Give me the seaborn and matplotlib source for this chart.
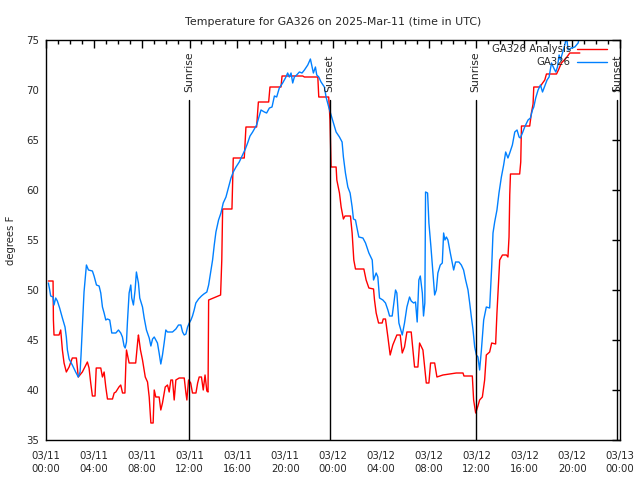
import pandas as pd
import matplotlib
matplotlib.use("Agg")
import matplotlib.pyplot as plt
import matplotlib.transforms as mtransforms
from matplotlib.ticker import MultipleLocator
import seaborn as sns

# hours since 2025-03-11 00:00 UTC
analysis_hours = [0.2, 0.59, 0.62, 0.67, 1.09, 1.23, 1.37, 1.51, 1.7, 1.93, 2.2, 2.54, 2.7, 3.04, 3.46, 3.6,
                  3.74, 3.88, 4.1, 4.2, 4.58, 4.72, 4.86, 5.0, 5.14, 5.56, 5.7, 5.84, 6.1, 6.25, 6.4, 6.6,
                  6.68, 6.73, 6.95, 7.5, 7.68, 7.73, 7.9, 8.07, 8.3, 8.49, 8.63, 8.77, 8.96, 9.05, 9.18, 9.46,
                  9.6, 9.74, 9.97, 10.16, 10.3, 10.44, 10.58, 10.72, 10.86, 11.14, 11.56, 11.7, 11.78, 11.92,
                  12.1, 12.25, 12.54, 12.68, 12.81, 13.0, 13.15, 13.3, 13.45, 13.55, 13.6, 14.0, 14.6, 14.7,
                  14.77, 15.55, 15.66, 16.58, 16.72, 17.61, 17.76, 18.62, 18.73, 19.65, 19.74, 21.47, 21.61,
                  22.73, 22.81, 23.64, 23.75, 23.84, 24.26, 24.32, 24.54, 24.68, 24.87, 25.0, 25.46, 25.6,
                  25.74, 25.88, 26.58, 26.77, 27.0, 27.39, 27.47, 27.61, 27.81, 28.11, 28.2, 28.39, 28.59,
                  28.78, 29.0, 29.34, 29.62, 29.79, 29.98, 30.18, 30.54, 30.68, 30.82, 31.1, 31.24, 31.52,
                  31.65, 31.8, 32.02, 32.16, 32.5, 32.69, 33.19, 34.31, 34.87, 34.95, 35.65, 35.76, 35.93,
                  36.12, 36.26, 36.49, 36.68, 36.82, 37.1, 37.27, 37.6, 37.71, 37.8, 37.94, 38.17, 38.5,
                  38.63, 38.72, 38.78, 38.84, 39.61, 39.7, 39.76, 40.45, 40.59, 40.73, 40.79, 41.29, 41.71,
                  41.85, 42.69, 42.85, 43.1, 43.5, 43.8, 44.64]
analysis_temps = [50.9, 50.9, 47.0, 45.5, 45.5, 46.0, 44.0, 42.7, 41.8, 42.3, 43.2, 43.2, 41.3, 41.8, 42.8, 42.2,
                  40.7, 39.4, 39.4, 42.2, 42.2, 41.3, 41.8, 40.3, 39.1, 39.1, 39.7, 39.8, 40.3, 40.5, 39.7, 39.7,
                  42.7, 44.0, 42.7, 42.7, 45.0, 45.5, 44.0, 43.0, 41.3, 40.8, 39.3, 36.7, 36.7, 40.0, 39.3, 39.3,
                  38.0, 38.7, 40.3, 40.5, 39.8, 41.0, 41.0, 39.0, 41.0, 41.2, 41.2, 39.7, 39.0, 41.0,
                  40.7, 39.7, 39.7, 40.7, 41.3, 41.3, 40.0, 41.5, 39.9, 39.8, 49.0, 49.2, 49.5, 53.0,
                  58.1, 58.1, 63.2, 63.2, 66.3, 66.3, 68.8, 68.8, 70.3, 70.3, 71.4, 71.4, 71.3,
                  71.3, 69.3, 69.3, 67.0, 62.3, 62.3, 61.0, 59.7, 58.3, 57.1, 57.4, 57.4, 55.7,
                  53.0, 52.1, 52.1, 51.0, 50.2, 50.1, 49.0, 47.7, 46.7, 46.7, 47.1, 47.1, 45.3,
                  43.5, 44.5, 45.5, 45.5, 43.7, 44.3, 45.8, 45.8, 44.0, 42.3, 42.3, 44.7, 44.0,
                  42.5, 40.7, 40.7, 42.7, 42.7, 41.3, 41.5, 41.7, 41.7, 41.4, 41.4, 39.0, 37.7,
                  38.4, 39.0, 39.3, 41.0, 43.5, 43.8, 44.7, 44.6, 47.7, 49.7, 53.0, 53.5, 53.5,
                  53.3, 55.3, 59.5, 61.6, 61.6, 62.8, 66.4, 66.4, 67.7, 68.6, 70.3, 70.3, 71.0,
                  71.6, 71.6, 72.0, 72.7, 73.2, 73.7, 73.7]

station_hours = [0.2, 0.31, 0.39, 0.59, 0.67, 0.81, 0.95, 1.14, 1.37, 1.59, 1.7, 1.79, 1.93, 2.2, 2.48, 2.7,
                 2.85, 2.93, 3.04, 3.18, 3.38, 3.55, 3.88, 4.02, 4.22, 4.44, 4.58, 4.72, 4.86, 5.0, 5.14,
                 5.33, 5.42, 5.5, 5.84, 6.06, 6.25, 6.39, 6.53, 6.62, 6.73, 6.81, 6.95, 7.09, 7.17, 7.31,
                 7.45, 7.56, 7.73, 7.84, 8.07, 8.21, 8.4, 8.63, 8.77, 8.91, 9.05, 9.18, 9.32, 9.46, 9.6,
                 9.74, 9.88, 10.02, 10.16, 10.58, 10.86, 11.08, 11.28, 11.42, 11.56, 11.7, 11.84, 11.98,
                 12.12, 12.25, 12.39, 12.53, 12.76, 13.0, 13.2, 13.45, 13.6, 13.8, 13.93, 14.07, 14.21,
                 14.43, 14.63, 14.82, 15.05, 15.27, 15.47, 15.66, 15.89, 16.16, 16.44, 16.67, 16.86,
                 17.06, 17.28, 17.61, 17.78, 17.98, 18.26, 18.45, 18.68, 18.9, 19.1, 19.29, 19.51, 19.79,
                 20.02, 20.21, 20.35, 20.49, 20.63, 20.77, 20.96, 21.19, 21.41, 21.61, 21.89, 22.11,
                 22.25, 22.36, 22.53, 22.64, 22.81, 23.0, 23.28, 23.42, 23.64, 23.84, 24.04, 24.26,
                 24.54, 24.76, 24.87, 25.04, 25.24, 25.43, 25.6, 25.71, 25.88, 25.99, 26.16, 26.5,
                 26.72, 27.0, 27.28, 27.39, 27.61, 27.75, 27.89, 28.17, 28.39, 28.59, 28.73, 28.95,
                 29.23, 29.34, 29.51, 29.79, 29.98, 30.18, 30.4, 30.54, 30.74, 30.9, 31.04, 31.18, 31.3,
                 31.47, 31.57, 31.68, 31.74, 31.91, 32.02, 32.19, 32.36, 32.5, 32.64, 32.77, 32.97,
                 33.14, 33.25, 33.36, 33.48, 33.61, 33.81, 33.98, 34.09, 34.25, 34.53, 34.73, 34.92,
                 35.09, 35.29, 35.43, 35.57, 35.71, 35.85, 35.99, 36.12, 36.26, 36.41, 36.6, 36.82,
                 37.1, 37.16, 37.27, 37.38, 37.52, 37.71, 37.88, 38.08, 38.27, 38.44, 38.63, 38.78,
                 39.0, 39.2, 39.39, 39.56, 39.67, 39.84, 40.03, 40.31, 40.51, 40.68, 40.79, 40.95,
                 41.15, 41.35, 41.52, 41.71, 41.9, 42.07, 42.27, 42.46, 42.63, 42.77, 42.91, 43.02,
                 43.19, 43.38, 43.53, 43.66, 43.94, 44.22, 44.5, 44.64]
station_temps = [50.7, 50.0, 49.4, 49.3, 48.5, 49.2, 48.9, 48.2, 47.2, 46.3, 45.3, 44.0, 43.1, 42.5, 41.8, 41.3,
                 41.8, 43.5, 46.2, 49.8, 52.5, 52.0, 51.9, 51.4, 50.5, 50.4, 49.7, 48.3, 47.7, 47.0, 47.1,
                 47.0, 46.3, 45.7, 45.7, 46.0, 45.7, 45.3, 44.4, 44.2, 44.8, 46.8, 49.7, 50.5, 49.2, 48.5,
                 50.0, 51.8, 50.7, 49.2, 48.3, 47.2, 46.0, 45.2, 44.4, 45.1, 45.3, 45.0, 44.7, 43.7, 42.6,
                 43.5, 44.7, 46.0, 45.8, 45.8, 46.1, 46.5, 46.5, 45.8, 45.5, 45.6, 46.3, 46.7,
                 47.0, 47.4, 48.0, 48.7, 49.1, 49.4, 49.6, 49.8, 50.5, 52.0, 53.0, 54.5, 55.8,
                 57.0, 57.7, 58.7, 59.3, 60.3, 61.2, 61.8, 62.3, 62.8, 63.5, 64.1, 64.7,
                 65.4, 65.8, 66.5, 67.2, 68.0, 67.8, 67.7, 68.2, 68.3, 69.4, 69.3, 70.2, 70.7,
                 71.2, 71.7, 71.3, 71.7, 70.7, 71.3, 71.5, 71.8, 71.7, 72.0, 72.5, 73.1,
                 72.3, 71.7, 72.3, 71.5, 71.3, 70.8, 70.3, 69.3, 68.3, 67.5, 66.7, 65.8,
                 65.3, 64.8, 63.3, 61.7, 60.3, 59.7, 58.3, 57.1, 57.0, 56.3, 55.3, 55.2,
                 54.7, 53.7, 53.0, 51.0, 51.7, 51.3, 49.2, 49.0, 48.7, 48.0, 47.4, 47.4,
                 50.0, 49.7, 46.7, 45.5, 46.7, 48.3, 49.3, 48.9, 48.7, 48.8, 46.8, 51.0, 51.4,
                 49.7, 47.4, 48.7, 59.8, 59.7, 56.7, 54.3, 51.7, 49.5, 50.0, 51.7, 52.5,
                 52.7, 55.7, 55.0, 55.3, 55.0, 53.7, 52.7, 52.0, 52.8, 52.8, 52.5, 52.0,
                 51.0, 50.0, 48.7, 47.3, 46.0, 44.3, 43.5, 43.3, 42.0, 44.0, 47.0, 48.3,
                 48.2, 49.7, 52.3, 55.7, 56.8, 58.0, 59.7, 61.3, 62.5, 63.8, 63.2, 63.7,
                 64.5, 65.8, 66.0, 65.3, 65.2, 65.7, 66.3, 67.0, 67.2, 68.0, 68.3, 69.2,
                 70.0, 70.5, 69.8, 70.4, 71.0, 71.3, 72.7, 72.2, 71.8, 72.3, 73.5, 73.0,
                 73.7, 74.5, 75.3, 74.0, 74.2, 74.3, 74.7, 75.5]

sun_hours = [11.98, 23.72, 35.93, 47.75]
sun_labels = ["Sunrise", "Sunset", "Sunrise", "Sunset"]

tick_hours = list(range(0, 49, 4))
tick_labels = ["03/11\n00:00", "03/11\n04:00", "03/11\n08:00", "03/11\n12:00", "03/11\n16:00",
               "03/11\n20:00", "03/12\n00:00", "03/12\n04:00", "03/12\n08:00", "03/12\n12:00",
               "03/12\n16:00", "03/12\n20:00", "03/13\n00:00"]

df = pd.concat([
    pd.DataFrame({"hour": analysis_hours, "temp": analysis_temps, "series": "GA326 Analysis"}),
    pd.DataFrame({"hour": station_hours, "temp": station_temps, "series": "GA326"}),
])

sns.set_style("white")
plt.rcParams["font.family"] = ["DejaVu Sans"]
plt.rcParams["font.size"] = 7.3

fig = plt.figure(figsize=(6.4, 4.8), dpi=100)
ax = fig.add_axes([46 / 640, 40 / 480, 574 / 640, 400 / 480])

sns.lineplot(data=df, x="hour", y="temp", hue="series", sort=False, estimator=None,
             palette={"GA326 Analysis": "#ff0000", "GA326": "#0080ff"}, linewidth=1, ax=ax)

# sunrise / sunset markers
trans = mtransforms.blended_transform_factory(ax.transData, ax.transAxes)
for h, lab in zip(sun_hours, sun_labels):
    ax.axvline(h, ymin=0, ymax=0.85, color="black", linewidth=1)
    ax.text(h, 0.87, lab, transform=trans, rotation=90, ha="center", va="bottom", fontsize=7.8)

ax.set_xlim(0, 48)
ax.set_ylim(35, 75)
ax.set_xticks(tick_hours)
ax.set_xticklabels(tick_labels, linespacing=1.35)
ax.xaxis.set_minor_locator(MultipleLocator(1))
ax.set_yticks(range(35, 76, 5))
ax.tick_params(which="both", direction="in", top=True, right=True, width=1, color="black")
ax.tick_params(which="major", length=6)
ax.tick_params(which="minor", length=3)
ax.tick_params(axis="x", pad=8)
ax.tick_params(axis="y", pad=5)
for s in ax.spines.values():
    s.set_color("black")
    s.set_linewidth(1)

ax.set_xlabel("")
ax.set_ylabel("degrees F")
ax.yaxis.set_label_coords(-0.052, 0.5)
ax.set_title("Temperature for GA326 on 2025-Mar-11 (time in UTC)", pad=11, fontsize=7.9)

handles, labels = ax.get_legend_handles_labels()
ax.legend(handles, labels, loc="upper right", bbox_to_anchor=(0.985, 1.0), frameon=False,
          markerfirst=False, handlelength=3, labelspacing=0.3, borderaxespad=0.2,
          borderpad=0.2, handletextpad=0.6)

plt.savefig("out.png", dpi=100)
plt.close()
